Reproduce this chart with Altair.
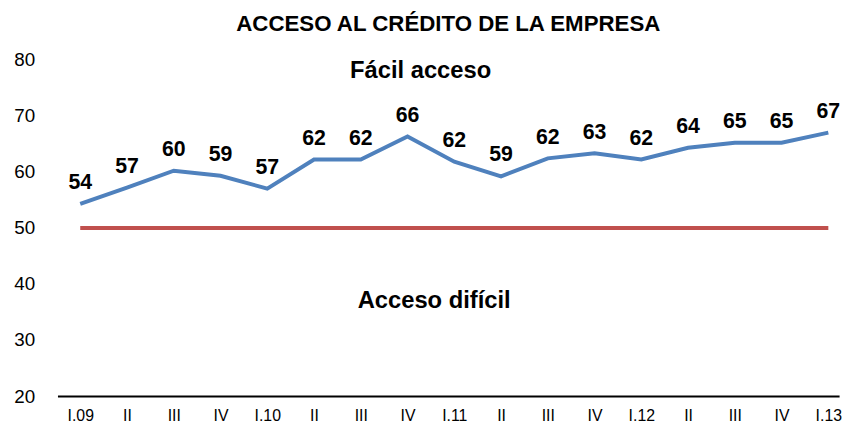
import altair as alt
import pandas as pd

labels = ["I.09", "II", "III", "IV", "I.10", "II", "III", "IV", "I.11",
          "II", "III", "IV", "I.12", "II", "III", "IV", "I.13"]
values = [54.3, 57.2, 60.2, 59.3, 57.0, 62.2, 62.2, 66.3, 61.8,
          59.2, 62.4, 63.3, 62.2, 64.3, 65.2, 65.2, 67.0]
value_labels = ["54", "57", "60", "59", "57", "62", "62", "66", "62",
                "59", "62", "63", "62", "64", "65", "65", "67"]
threshold = 50
annotations = ["Fácil acceso", "Acceso difícil"]
annot_x = [7.28, 7.57]
annot_y = [77.9, 37.0]

df = pd.DataFrame({"i": list(range(len(labels))), "v": values, "lab": value_labels})
ref = pd.DataFrame({"i": [0, len(labels) - 1], "v": [threshold, threshold]})
ann = pd.DataFrame({"t": annotations, "x": annot_x, "y": annot_y})

label_expr = "[" + ",".join("'" + l + "'" for l in labels) + "][datum.value]"

FONT = "Liberation Sans"

xscale = alt.Scale(domain=[-0.487, 16.23], nice=False, zero=False)
yscale = alt.Scale(domain=[20, 80], nice=False, zero=False)

xenc = alt.X("i:Q", scale=xscale, title=None,
             axis=alt.Axis(values=list(range(len(labels))), labelExpr=label_expr,
                           grid=False, ticks=False, tickSize=0, domain=True,
                           domainColor="#000000", domainWidth=2,
                           labelFont=FONT, labelFontSize=16, labelColor="#000000",
                           labelPadding=12))
yenc = alt.Y("v:Q", scale=yscale, title=None,
             axis=alt.Axis(values=[20, 30, 40, 50, 60, 70, 80], grid=False,
                           ticks=False, tickSize=0, domain=False,
                           labelFont=FONT, labelFontSize=19, labelColor="#000000",
                           labelPadding=23))

red = alt.Chart(ref).mark_line(color="#C0504D", strokeWidth=4).encode(x=xenc, y=yenc)
line = alt.Chart(df).mark_line(color="#4F81BD", strokeWidth=4).encode(x=xenc, y=yenc)
text = alt.Chart(df).mark_text(font=FONT, fontSize=21.5, fontWeight="bold",
                               color="#000000", dy=-21, baseline="middle").encode(
    x="i:Q", y="v:Q", text="lab:N")
atext = alt.Chart(ann).mark_text(font=FONT, fontSize=24, fontWeight="bold",
                                 color="#000000", baseline="middle").encode(
    x="x:Q", y="y:Q", text="t:N")

chart = alt.layer(red, line, text, atext).properties(
    width=790, height=340,
    padding={"left": 5, "top": 2, "right": 5, "bottom": 5},
    title=alt.TitleParams("ACCESO AL CRÉDITO DE LA EMPRESA", font=FONT,
                          fontSize=22.5, fontWeight="bold", color="#000000",
                          anchor="middle", offset=16),
).configure_view(stroke=None)

chart.save("out.html", embed_options={"renderer": "svg", "actions": False})
